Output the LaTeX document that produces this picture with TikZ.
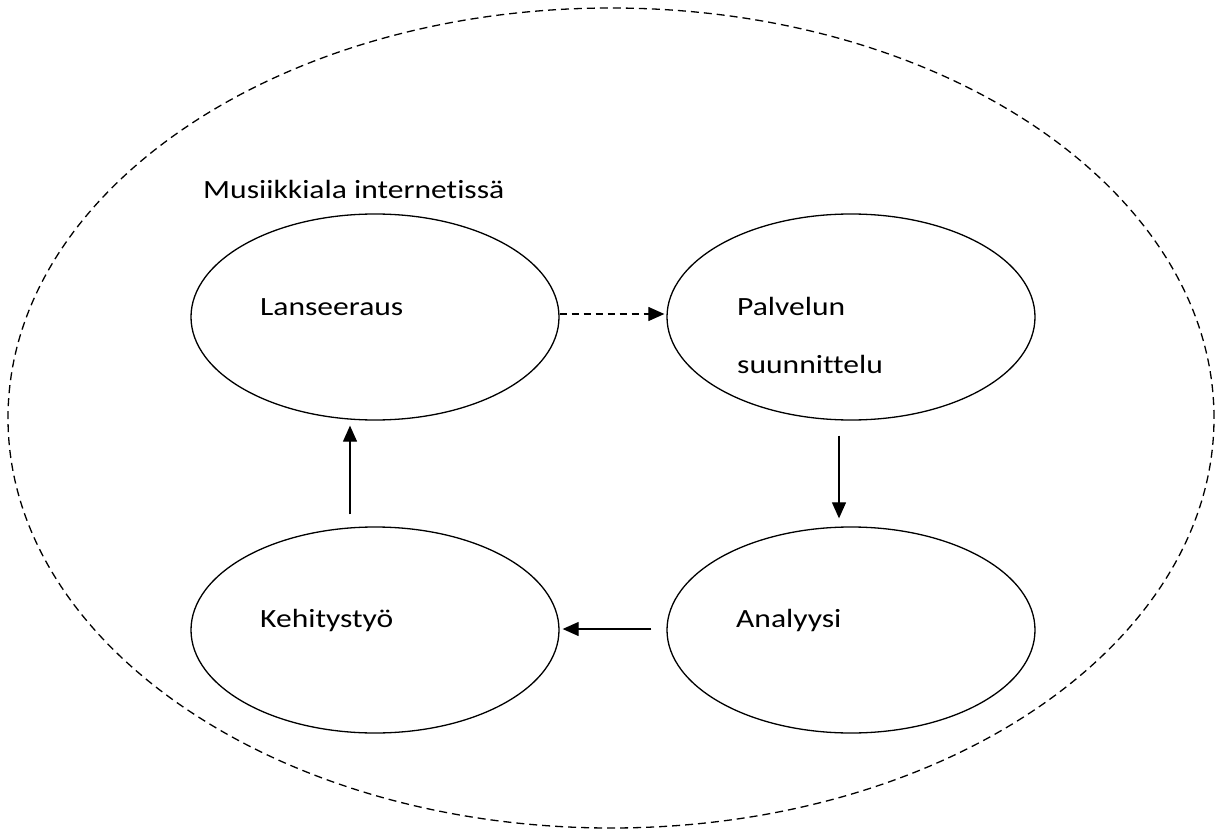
\documentclass[tikz,border=0pt]{standalone}
\usepackage{fontspec}
\setmainfont{Carlito}[Ligatures=NoCommon]
\usetikzlibrary{shapes.geometric,arrows.meta,calc}
\newcommand{\wtxt}[1]{\scalebox{1.2}[1]{#1}}
\begin{document}
\begin{tikzpicture}[x=1pt,y=-1pt,
  stage/.style={draw,ellipse,line width=1.3pt,minimum width=368pt,minimum height=206pt,inner sep=0pt},
  outerbox/.style={draw,ellipse,line width=1.3pt,dash pattern=on 8pt off 5pt,minimum width=1206pt,minimum height=820pt,inner sep=0pt},
  lbl/.style={anchor=base west,inner sep=0pt,font=\fontsize{26.3}{32}\selectfont},
  arr/.style={line width=1.2pt,-{Triangle[length=16pt,width=14pt]}},
  ]
\useasboundingbox (0,0) rectangle (1218,829);
\node[outerbox] (outer) at (611,418) {};
\node[stage] (lan) at (375,317) {};
\node[stage] (pal) at (851,317) {};
\node[stage] (keh) at (375,630) {};
\node[stage] (ana) at (851,630) {};
\node[lbl] (title) at (203,199) {\wtxt{Musiikkiala internetissä}};
\node[lbl] (tlan) at (260,315) {\wtxt{Lanseeraus}};
\node[lbl] (tpal1) at (737,315) {\wtxt{Palvelun}};
\node[lbl] (tpal2) at (737,373) {\wtxt{suunnittelu}};
\node[lbl] (tkeh) at (260,627) {\wtxt{Kehitystyö}};
\node[lbl] (tana) at (736,627) {\wtxt{Analyysi}};
\coordinate (d1) at ($(pal.south)+(-12,15)$);
\coordinate (d2) at ($(ana.north)+(-12,-8)$);
\coordinate (u1) at ($(keh.north)+(-25,-12)$);
\coordinate (u2) at ($(lan.south)+(-25,5)$);
\draw[arr,dash pattern=on 7pt off 5pt] ($(lan.east)+(0,-3)$) -- ($(pal.west)+(-2,-3)$);
\draw[arr] (d1) -- (d2);
\draw[arr,shorten <=15pt,shorten >=3pt] ($(ana.west)+(0,-1)$) -- ($(keh.east)+(0,-1)$);
\draw[arr] (u1) -- (u2);
\end{tikzpicture}
\end{document}
